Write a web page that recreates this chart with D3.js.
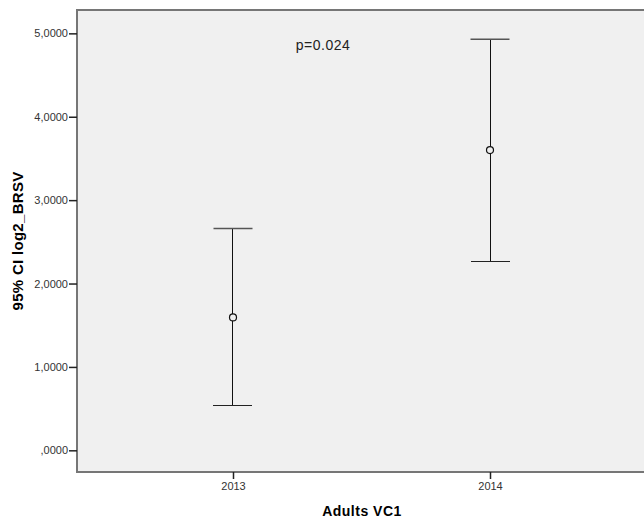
<!DOCTYPE html>
<html>
<head>
<meta charset="utf-8">
<script src="https://cdn.jsdelivr.net/npm/d3@7"></script>
<style>
  body { margin: 0; background: #fff; }
  text { font-family: "Liberation Sans", Arial, sans-serif; }
</style>
</head>
<body>
<svg id="chart" width="644" height="523"></svg>
<script>
// error bar data (95% CI of log2_BRSV by year)
var years = ["2013", "2014"];
var means = [1.594, 3.60];
var lower = [0.534, 2.26];
var upper = [2.66, 4.93];
var yTicks = [0, 1, 2, 3, 4, 5];
var pLabel = "p=0.024";

var svg = d3.select("#chart");

var plot = { left: 77, right: 646, top: 10, bottom: 472 };

var x = d3.scalePoint()
  .domain(years)
  .range([plot.left, plot.right])
  .padding(0.607);

var y = d3.scaleLinear()
  .domain([-0.26, 5.28])
  .range([plot.bottom, plot.top]);

// plot background
svg.append("rect")
  .attr("x", plot.left)
  .attr("y", plot.top)
  .attr("width", plot.right - plot.left)
  .attr("height", plot.bottom - plot.top)
  .attr("fill", "#f0f0f0")
  .attr("stroke", "#767676")
  .attr("stroke-width", 2);

// y axis
var yAxis = svg.append("g")
  .attr("transform", "translate(" + plot.left + ",0)")
  .call(d3.axisLeft(y)
    .tickValues(yTicks)
    .tickSize(8)
    .tickPadding(1)
    .tickFormat(function(d) { return d == 0 ? ",0000" : d + ",0000"; }));
yAxis.select(".domain").remove();
yAxis.selectAll("line").attr("stroke", "#222").attr("stroke-width", 1.5);
yAxis.selectAll("text")
  .style("font-family", "Liberation Sans, Arial, sans-serif")
  .style("font-size", "11px")
  .attr("fill", "#333");

// x axis
var xAxis = svg.append("g")
  .attr("transform", "translate(0," + plot.bottom + ")")
  .call(d3.axisBottom(x).tickSize(7).tickPadding(3));
xAxis.select(".domain").remove();
xAxis.selectAll("line").attr("stroke", "#222").attr("stroke-width", 1.5);
xAxis.selectAll("text")
  .style("font-family", "Liberation Sans, Arial, sans-serif")
  .style("font-size", "11px")
  .attr("fill", "#333");

// error bars
var capW = 39;
var bars = svg.selectAll(".ebar")
  .data(years)
  .enter().append("g")
  .attr("class", "ebar");

bars.append("line")
  .attr("x1", function(d) { return x(d); })
  .attr("x2", function(d) { return x(d); })
  .attr("y1", function(d, i) { return y(upper[i]); })
  .attr("y2", function(d, i) { return y(lower[i]); })
  .attr("stroke", "#111")
  .attr("stroke-width", 1)
  .attr("shape-rendering", "crispEdges");

bars.append("line")
  .attr("x1", function(d) { return x(d) - capW / 2; })
  .attr("x2", function(d) { return x(d) + capW / 2; })
  .attr("y1", function(d, i) { return y(upper[i]); })
  .attr("y2", function(d, i) { return y(upper[i]); })
  .attr("stroke", "#555")
  .attr("stroke-width", 1.5);

bars.append("line")
  .attr("x1", function(d) { return x(d) - capW / 2; })
  .attr("x2", function(d) { return x(d) + capW / 2; })
  .attr("y1", function(d, i) { return y(lower[i]); })
  .attr("y2", function(d, i) { return y(lower[i]); })
  .attr("stroke", "#222")
  .attr("stroke-width", 1)
  .attr("shape-rendering", "crispEdges");

bars.append("circle")
  .attr("cx", function(d) { return x(d); })
  .attr("cy", function(d, i) { return y(means[i]); })
  .attr("r", 3.5)
  .attr("fill", "#f0f0f0")
  .attr("stroke", "#111")
  .attr("stroke-width", 1.2);

// p value annotation
svg.append("text")
  .attr("x", 323)
  .attr("y", 49.5)
  .attr("text-anchor", "middle")
  .style("font-size", "14px")
  .style("letter-spacing", "0.5px")
  .attr("fill", "#222")
  .text(pLabel);

// axis titles
svg.append("text")
  .attr("x", 362)
  .attr("y", 516)
  .attr("text-anchor", "middle")
  .style("font-size", "14px")
  .style("font-weight", "bold")
  .style("letter-spacing", "0.5px")
  .attr("fill", "#000")
  .text("Adults VC1");

svg.append("text")
  .attr("transform", "translate(23," + ((plot.top + plot.bottom) / 2) + ") rotate(-90)")
  .attr("text-anchor", "middle")
  .style("font-size", "15px")
  .style("font-weight", "bold")
  .style("letter-spacing", "0.3px")
  .attr("fill", "#000")
  .text("95% CI log2_BRSV");
</script>
</body>
</html>
